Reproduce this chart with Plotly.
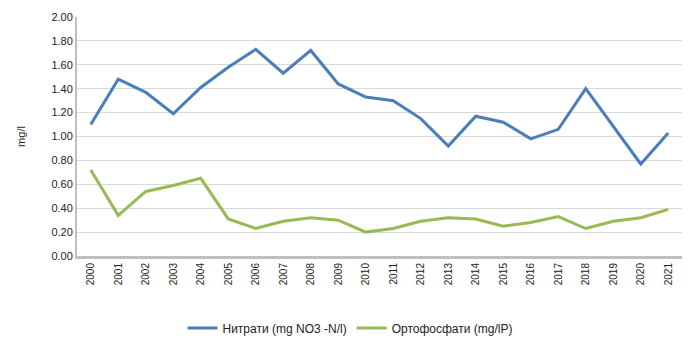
import plotly.graph_objects as go

years = [str(y) for y in range(2000, 2022)]
nitrati = [1.10, 1.48, 1.37, 1.19, 1.41, 1.58, 1.73, 1.53, 1.72, 1.44, 1.33,
           1.30, 1.15, 0.92, 1.17, 1.12, 0.98, 1.06, 1.40, 1.08, 0.77, 1.03]
ortofosfati = [0.72, 0.34, 0.54, 0.59, 0.65, 0.31, 0.23, 0.29, 0.32, 0.30, 0.20,
               0.23, 0.29, 0.32, 0.31, 0.25, 0.28, 0.33, 0.23, 0.29, 0.32, 0.39]
y_ticks = [0.0, 0.2, 0.4, 0.6, 0.8, 1.0, 1.2, 1.4, 1.6, 1.8, 2.0]

fig = go.Figure()
fig.add_trace(go.Scatter(x=years, y=nitrati, mode="lines",
                         name="Нитрати (mg NO3 -N/l)",
                         line=dict(color="#4a7ebb", width=3)))
fig.add_trace(go.Scatter(x=years, y=ortofosfati, mode="lines",
                         name="Ортофосфати (mg/lP)",
                         line=dict(color="#98b954", width=3)))

fig.update_layout(
    width=700, height=346,
    margin=dict(l=77, r=18, t=17, b=90),
    paper_bgcolor="white", plot_bgcolor="white",
    font=dict(family="Liberation Sans, Arial, sans-serif", size=11, color="#222"),
    showlegend=True,
    legend=dict(orientation="h", xref="container", x=0.5, xanchor="center",
                yref="container", y=0.052, yanchor="middle",
                font=dict(size=12), itemwidth=30),
    xaxis=dict(type="category", tickangle=-90, tickfont=dict(size=10),
               showgrid=False, showline=True, linecolor="#bfbfbf", linewidth=3,
               ticks="", range=[-0.5, 21.5]),
    yaxis=dict(range=[0, 2.0], tickvals=y_ticks, tickformat=".2f",
               showgrid=True, gridcolor="#d9d9d9", gridwidth=1,
               showline=True, linecolor="#bfbfbf", linewidth=2,
               ticks="", zeroline=False,
               title=dict(text="mg/l", font=dict(size=11), standoff=24)),
)

fig.write_html("out.html")
